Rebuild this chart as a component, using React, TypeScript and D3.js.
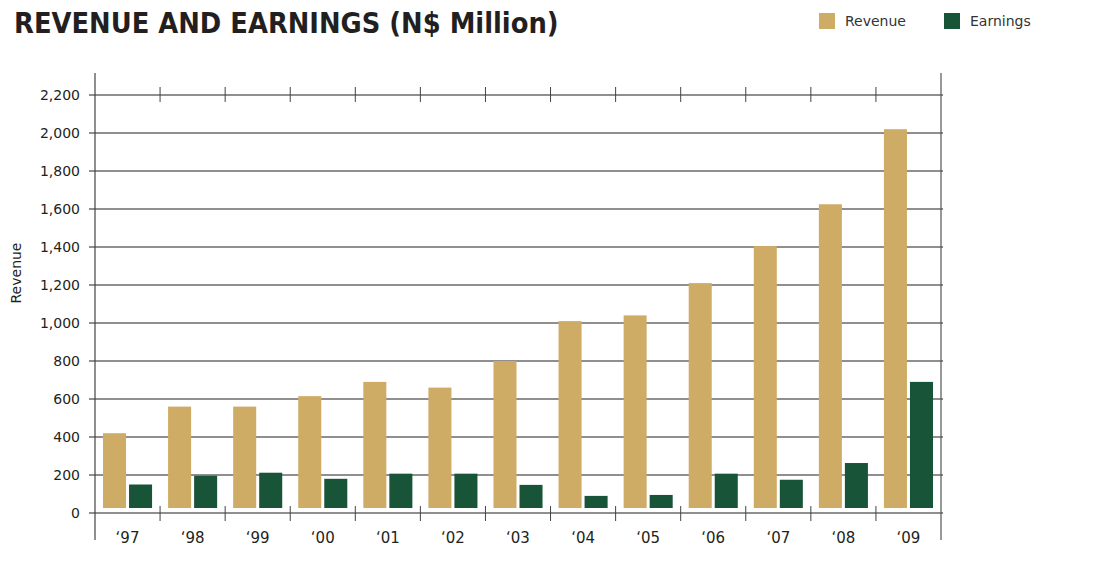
import React from "react";
import * as d3 from "d3";

const years = ["‘97", "‘98", "‘99", "‘00", "‘01", "‘02", "‘03", "‘04", "‘05", "‘06", "‘07", "‘08", "‘09"];
const revenue = [420, 560, 560, 615, 690, 660, 800, 1010, 1040, 1210, 1405, 1625, 2020];
const earnings = [150, 196, 212, 180, 207, 207, 148, 90, 95, 207, 175, 263, 690];
const yTicks = [0, 200, 400, 600, 800, 1000, 1200, 1400, 1600, 1800, 2000, 2200];
const seriesNames = ["Revenue", "Earnings"];
const colors = ["#CFAC66", "#175438"];

const W = 1112;
const H = 577;
const left = 95;
const right = 941;
const top = 95;
const bottom = 513;
const font = "'DejaVu Sans', Verdana, sans-serif";

export default function App() {
  const x = d3.scaleBand<string>().domain(years).range([left, right]).paddingInner(0).paddingOuter(0);
  const y = d3.scaleLinear().domain([0, 2200]).range([bottom, top]);
  const bw = x.bandwidth();
  const barW = bw * (23 / 65);
  const off1 = bw * (8 / 65);
  const off2 = bw * (34 / 65);
  const baseY = y(0) - 5;
  const boundaries = years.slice(1).map((yr) => x(yr)!);

  return (
    <svg width={W} height={H} style={{ position: "absolute", left: 0, top: 0, background: "#fff" }}>
      <text x={14} y={33} fontFamily="'DejaVu Sans Condensed', 'DejaVu Sans', sans-serif" fontWeight="bold" fontSize={28.7} fill="#231f20">
        REVENUE AND EARNINGS (N$ Million)
      </text>
      {seriesNames.map((s, i) => (
        <g key={s} transform={`translate(${819 + i * 125},13)`}>
          <rect width={16} height={16} fill={colors[i]} />
          <text x={26} y={13} fontFamily={font} fontSize={14} fill="#333">{s}</text>
        </g>
      ))}
      {yTicks.map((t) => (
        <g key={t}>
          <line x1={89} x2={943} y1={y(t)} y2={y(t)} stroke="#6a6a6a" strokeWidth={1.6} />
          <text x={80} y={y(t) + 5} textAnchor="end" fontFamily={font} fontSize={14} fill="#231f20">
            {d3.format(",")(t)}
          </text>
        </g>
      ))}
      {years.map((yr, i) => (
        <g key={yr}>
          <rect x={x(yr)! + off1} y={y(revenue[i])} width={barW} height={baseY - y(revenue[i])} fill={colors[0]} />
          <rect x={x(yr)! + off2} y={y(earnings[i])} width={barW} height={baseY - y(earnings[i])} fill={colors[1]} />
        </g>
      ))}
      <line x1={left} x2={left} y1={73} y2={540} stroke="#444" strokeWidth={1.2} />
      <line x1={right} x2={right} y1={73} y2={540} stroke="#555" strokeWidth={1.2} />
      {boundaries.map((b, i) => (
        <g key={i}>
          <line x1={b} x2={b} y1={y(2200) - 8} y2={y(2200) + 7} stroke="#444" strokeWidth={1} />
          <line x1={b} x2={b} y1={y(0) - 7} y2={y(0) + 8} stroke="#444" strokeWidth={1} />
        </g>
      ))}
      {years.map((yr) => (
        <text key={yr} x={x(yr)! + bw / 2} y={543} textAnchor="middle" fontFamily={font} fontSize={15} fill="#231f20">
          {yr}
        </text>
      ))}
      <text transform={`translate(21,273) rotate(-90)`} textAnchor="middle" fontFamily={font} fontSize={14} fill="#231f20">
        Revenue
      </text>
    </svg>
  );
}
